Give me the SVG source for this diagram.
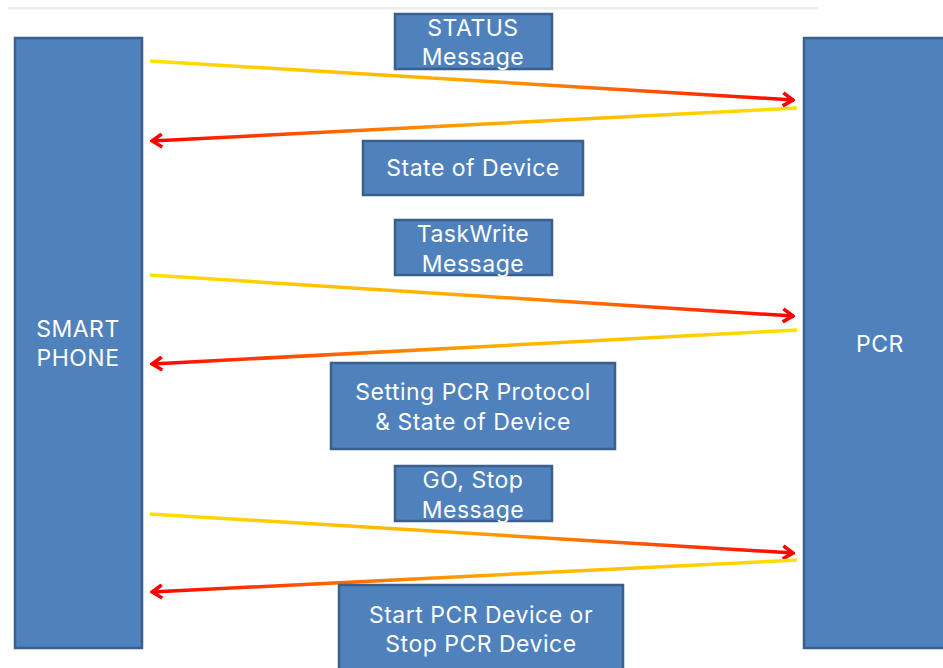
<svg xmlns="http://www.w3.org/2000/svg" width="943" height="668" viewBox="0 0 943 668">
  <style>
    .box { fill: #4f81bd; stroke: #3a5f8e; stroke-width: 2.5; }
    .lbl { fill: #ffffff; font-family: Inter, "Noto Sans", "DejaVu Sans", sans-serif; font-size: 23px; letter-spacing: 0.5px; text-anchor: middle; }
    .arr { fill: none; stroke-width: 3.5; stroke-linecap: butt; }
  </style>
  <defs>
    <linearGradient id="gR" x1="0" y1="0" x2="1" y2="0">
      <stop offset="0" stop-color="#ffe000"/>
      <stop offset="0.45" stop-color="#ffb000"/>
      <stop offset="0.75" stop-color="#ff5a00"/>
      <stop offset="1" stop-color="#ff0000"/>
    </linearGradient>
    <linearGradient id="gL" x1="1" y1="0" x2="0" y2="0">
      <stop offset="0" stop-color="#ffe000"/>
      <stop offset="0.45" stop-color="#ffb000"/>
      <stop offset="0.75" stop-color="#ff5a00"/>
      <stop offset="1" stop-color="#ff0000"/>
    </linearGradient>
    <marker id="head" viewBox="-12 -8 14 16" markerWidth="14" markerHeight="16" refX="0" refY="0" orient="auto" markerUnits="userSpaceOnUse">
      <path d="M-10,-6.5 L0,0 L-10,6.5" fill="none" stroke="#ff0000" stroke-width="3.5" stroke-linejoin="miter"/>
    </marker>
  </defs>

  <!-- thin rule across the top -->
  <rect x="8" y="7" width="810" height="2.5" fill="#ececef"/>

  <g id="smartphone">
    <rect class="box" x="15" y="38" width="127" height="610"/>
    <text class="lbl" x="78" y="337">SMART</text>
    <text class="lbl" x="78" y="366">PHONE</text>
  </g>

  <g id="pcr">
    <rect class="box" x="804" y="38" width="145" height="610"/>
    <text class="lbl" x="880" y="352">PCR</text>
  </g>

  <g id="connectors">
    <line class="arr" x1="150" y1="61" x2="793" y2="100" stroke="url(#gR)" marker-end="url(#head)"/>
    <line class="arr" x1="797" y1="108" x2="152" y2="141" stroke="url(#gL)" marker-end="url(#head)"/>
    <line class="arr" x1="150" y1="275" x2="793" y2="316" stroke="url(#gR)" marker-end="url(#head)"/>
    <line class="arr" x1="797" y1="330" x2="152" y2="364" stroke="url(#gL)" marker-end="url(#head)"/>
    <line class="arr" x1="150" y1="514" x2="793" y2="553" stroke="url(#gR)" marker-end="url(#head)"/>
    <line class="arr" x1="797" y1="560" x2="152" y2="592" stroke="url(#gL)" marker-end="url(#head)"/>
  </g>

  <g id="status-message">
    <rect class="box" x="395" y="14" width="157" height="55"/>
    <text class="lbl" x="473" y="36">STATUS</text>
    <text class="lbl" x="473" y="65">Message</text>
  </g>

  <g id="state-of-device">
    <rect class="box" x="363" y="141" width="220" height="54"/>
    <text class="lbl" x="473" y="176">State of Device</text>
  </g>

  <g id="taskwrite-message">
    <rect class="box" x="395" y="220" width="157" height="55"/>
    <text class="lbl" x="473" y="242">TaskWrite</text>
    <text class="lbl" x="473" y="272">Message</text>
  </g>

  <g id="setting-protocol">
    <rect class="box" x="331" y="363" width="284" height="86"/>
    <text class="lbl" x="473" y="400">Setting PCR Protocol</text>
    <text class="lbl" x="473" y="430">&amp; State of Device</text>
  </g>

  <g id="go-stop-message">
    <rect class="box" x="395" y="466" width="157" height="55"/>
    <text class="lbl" x="473" y="488">GO, Stop</text>
    <text class="lbl" x="473" y="518">Message</text>
  </g>

  <g id="start-stop-device">
    <rect class="box" x="339" y="585" width="284" height="90"/>
    <text class="lbl" x="481" y="623">Start PCR Device or</text>
    <text class="lbl" x="481" y="652">Stop PCR Device</text>
  </g>
</svg>
